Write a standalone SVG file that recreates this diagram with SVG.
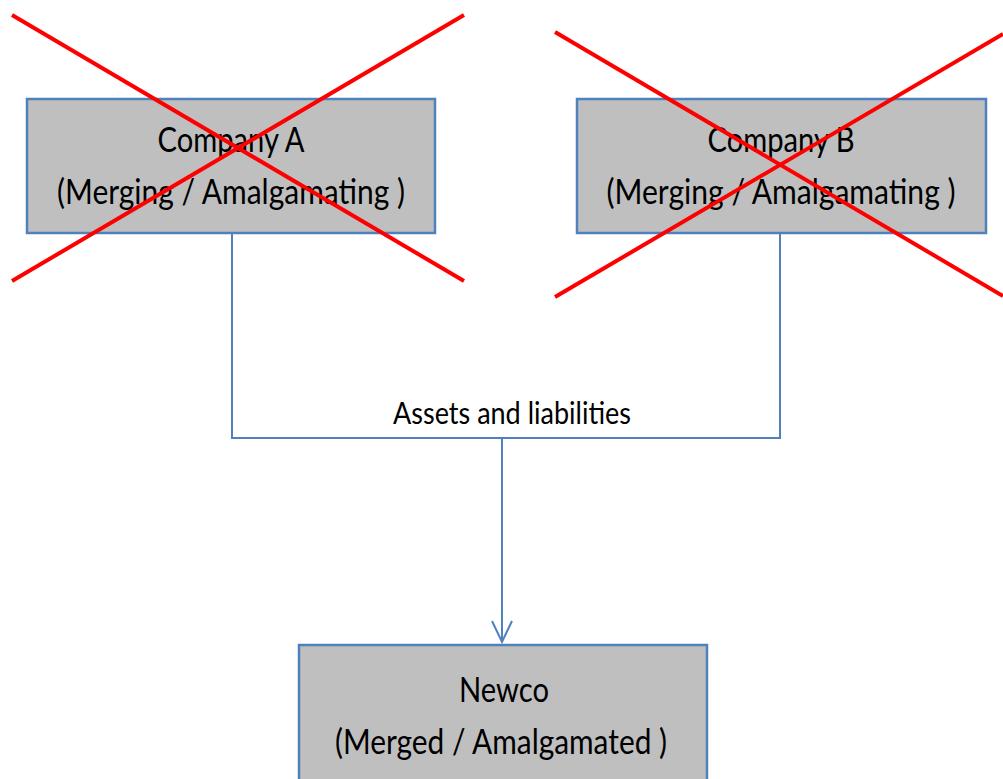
<svg xmlns="http://www.w3.org/2000/svg" width="1003" height="779" viewBox="0 0 1003 779">
<style>
.box{fill:#BFBFBF;stroke:#4F81BD;stroke-width:2.5}
.t{font-family:Lato,"Open Sans","Liberation Sans",sans-serif;font-size:35px;fill:#000;text-anchor:middle}
.lbl{font-family:Lato,"Open Sans","Liberation Sans",sans-serif;font-size:30px;fill:#000;text-anchor:middle}
.con{fill:none;stroke:#4F81BD;stroke-width:2}
.x{stroke:#FF0000;stroke-width:4;stroke-linecap:butt}
</style>
<rect width="1003" height="779" fill="#fff"/>
<g id="connectors">
<path class="con" d="M232,233 V438 H780 V233"/>
<path class="con" d="M502,438 V641"/>
<path class="con" d="M492,621 L502,642 L512,621"/>
<text class="lbl" x="512" y="424" textLength="238" lengthAdjust="spacingAndGlyphs">Assets and liabilities</text>
</g>
<g id="companyA">
<rect class="box" x="27" y="99" width="408" height="134"/>
<text class="t" x="231" y="152" textLength="147" lengthAdjust="spacingAndGlyphs">Company A</text>
<text class="t" x="231" y="204" textLength="348" lengthAdjust="spacingAndGlyphs">(Merging / Amalgamating )</text>
<line class="x" x1="12" y1="15" x2="464" y2="281"/>
<line class="x" x1="12" y1="281" x2="464" y2="15"/>
</g>
<g id="companyB">
<rect class="box" x="577" y="99" width="409" height="134"/>
<text class="t" x="781" y="152" textLength="147" lengthAdjust="spacingAndGlyphs">Company B</text>
<text class="t" x="781" y="204" textLength="349" lengthAdjust="spacingAndGlyphs">(Merging / Amalgamating )</text>
<line class="x" x1="555" y1="32" x2="1003" y2="296"/>
<line class="x" x1="555" y1="297" x2="1003" y2="34"/>
</g>
<g id="newco">
<rect class="box" x="299" y="645" width="408" height="140"/>
<text class="t" x="504" y="702" textLength="90" lengthAdjust="spacingAndGlyphs">Newco</text>
<text class="t" x="501" y="754" textLength="332" lengthAdjust="spacingAndGlyphs">(Merged / Amalgamated )</text>
</g>
</svg>
